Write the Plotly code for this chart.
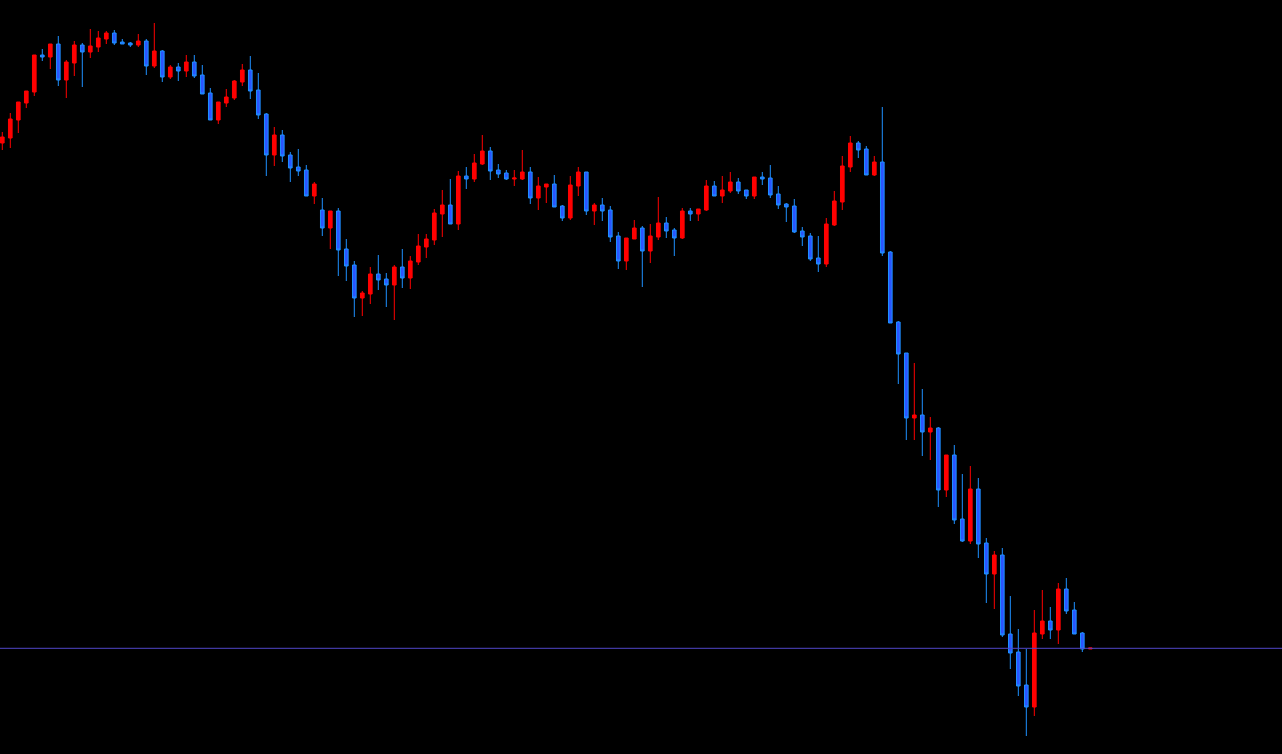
import plotly.graph_objects as go

# OHLC values (price units)
opens = [611, 616, 634, 651, 662, 699, 697, 710, 674, 691, 709, 702, 707, 715, 721, 712, 711, 709, 713, 688,
         703, 677, 687, 683, 692, 679, 661, 634, 651, 656, 672, 684, 664, 640, 599, 619, 599, 587, 584, 558,
         544, 526, 543, 505, 489, 456, 460, 480, 475, 469, 487, 476, 492, 507, 514, 540, 549, 530, 578, 575,
         590, 603, 584, 581, 575, 575, 582, 556, 567, 570, 548, 536, 568, 582, 543, 549, 544, 518, 493, 515,
         526, 503, 517, 531, 524, 516, 543, 540, 544, 568, 558, 563, 572, 564, 558, 577, 576, 560, 550, 548,
         523, 518, 496, 490, 529, 552, 587, 611, 605, 579, 592, 502, 432, 401, 336, 339, 322, 326, 264, 299,
         235, 213, 265, 211, 180, 199, 120, 102, 69, 47, 120, 133, 124, 165, 144, 121, 105]
highs = [622, 641, 652, 663, 699, 705, 710, 718, 694, 713, 711, 725, 723, 723, 724, 715, 712, 720, 715, 731,
         704, 689, 691, 699, 699, 689, 666, 652, 665, 674, 690, 698, 681, 641, 627, 624, 602, 605, 589, 572,
         556, 543, 546, 515, 493, 463, 487, 499, 481, 489, 505, 498, 520, 520, 545, 564, 575, 583, 587, 600,
         619, 607, 590, 584, 584, 604, 587, 577, 570, 579, 549, 578, 587, 582, 551, 556, 548, 522, 516, 534,
         528, 530, 557, 537, 526, 546, 546, 545, 574, 573, 578, 582, 576, 564, 577, 582, 589, 568, 551, 555,
         527, 521, 518, 536, 563, 598, 618, 613, 608, 598, 647, 503, 433, 401, 391, 365, 337, 327, 299, 309,
         280, 288, 276, 216, 203, 206, 158, 125, 105, 144, 164, 147, 171, 176, 152, 122, 106]
lows = [604, 606, 621, 646, 658, 693, 685, 668, 656, 678, 667, 696, 702, 710, 709, 710, 707, 707, 679, 686,
        672, 675, 673, 677, 676, 660, 634, 630, 647, 654, 668, 655, 635, 578, 588, 592, 572, 578, 558, 550,
        518, 505, 478, 473, 437, 438, 450, 464, 447, 434, 466, 465, 489, 496, 509, 517, 530, 524, 565, 572,
        589, 574, 576, 574, 568, 574, 550, 544, 551, 547, 533, 534, 558, 539, 529, 533, 512, 485, 484, 515,
        467, 491, 514, 516, 498, 515, 533, 533, 543, 558, 551, 561, 560, 555, 555, 569, 556, 545, 532, 521,
        508, 493, 482, 487, 528, 544, 582, 596, 579, 578, 498, 431, 370, 314, 314, 298, 294, 247, 257, 230,
        212, 210, 196, 151, 145, 117, 85, 58, 18, 38, 115, 115, 110, 140, 120, 102, 105]
closes = [617, 635, 652, 663, 699, 697, 710, 674, 692, 709, 702, 708, 716, 721, 711, 710, 709, 713, 688, 703,
          677, 687, 683, 692, 678, 660, 634, 652, 657, 673, 684, 663, 639, 599, 619, 598, 586, 583, 558, 570,
          526, 543, 504, 488, 456, 461, 480, 474, 469, 487, 476, 493, 508, 515, 541, 549, 530, 578, 575, 591,
          603, 583, 580, 575, 576, 582, 556, 568, 570, 547, 536, 569, 582, 543, 549, 543, 517, 493, 516, 526,
          503, 518, 531, 523, 516, 543, 540, 545, 568, 558, 564, 572, 563, 558, 577, 575, 559, 549, 547, 522,
          517, 495, 490, 530, 553, 588, 611, 604, 579, 592, 501, 431, 400, 336, 339, 322, 326, 264, 299, 234,
          213, 265, 210, 180, 199, 119, 101, 68, 47, 121, 133, 124, 165, 143, 120, 105, 106]
bar_index = list(range(len(opens)))
bid_level = [105.7]

fig = go.Figure()
fig.add_trace(go.Candlestick(
    x=bar_index, open=opens, high=highs, low=lows, close=closes,
    increasing=dict(line=dict(color="#ff0000", width=1), fillcolor="#ff0000"),
    decreasing=dict(line=dict(color="#1e90ff", width=1), fillcolor="#2a55ff"),
    whiskerwidth=0, showlegend=False, hoverinfo="skip",
))
for lvl in bid_level:
    fig.add_hline(y=lvl, line=dict(color="#5046c8", width=1))

fig.update_layout(
    width=1282, height=754,
    margin=dict(l=0, r=0, t=0, b=0),
    paper_bgcolor="#000000", plot_bgcolor="#000000",
    boxgap=0.35,
    xaxis=dict(range=[-0.2875, 159.96], visible=False, rangeslider=dict(visible=False), showgrid=False, zeroline=False),
    yaxis=dict(range=[0, 754], visible=False, showgrid=False, zeroline=False),
    showlegend=False,
)
fig.write_html(
    "out.html",
    config={"displayModeBar": False},
    post_script="document.body.style.margin='0';document.body.style.background='#000';document.body.style.overflow='hidden';",
)
